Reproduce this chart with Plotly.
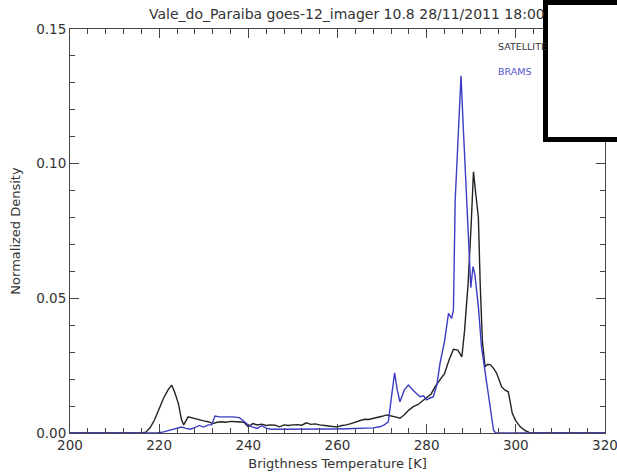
import plotly.graph_objects as go

# Brightness-temperature histograms (K vs normalized density)
sat_temp = [200, 216, 217, 218, 219, 220, 221, 222, 222.8, 223.5, 224.3, 225, 225.5,
            226.5, 227.5, 228.5, 230, 231, 232, 233, 234, 235, 236, 237.5, 239, 240,
            241, 242, 243, 244, 245, 246, 247, 248, 249, 250, 251, 252, 253, 254, 255,
            256, 257, 258, 259, 260, 261, 262, 263, 264, 265, 266, 267, 268, 269, 270,
            271, 272, 273, 274, 275, 276, 277, 278, 279, 280, 281, 282, 283, 284, 285,
            286, 287, 287.9, 288.5, 289.3, 290, 290.5, 291, 291.6, 292, 292.5, 293.1,
            293.7, 294.3, 295, 295.7, 296.3, 296.8, 297.5, 298.3, 298.8, 299.2, 300,
            301, 302, 303, 304, 320]
sat_density = [0, 0, 0.0003, 0.002, 0.005, 0.009, 0.013, 0.016, 0.0178, 0.015, 0.011,
               0.005, 0.003, 0.006, 0.0055, 0.005, 0.0045, 0.0042, 0.0035, 0.004, 0.0042,
               0.004, 0.0043, 0.0042, 0.004, 0.0023, 0.0035, 0.003, 0.0033, 0.0028, 0.003,
               0.0029, 0.0023, 0.003, 0.0028, 0.003, 0.0031, 0.0029, 0.0038, 0.0032,
               0.0034, 0.003, 0.0027, 0.0026, 0.0024, 0.0023, 0.0028, 0.003, 0.0035,
               0.004, 0.0046, 0.0051, 0.005, 0.0054, 0.0056, 0.0062, 0.0067, 0.0064,
               0.006, 0.0055, 0.0068, 0.0085, 0.0098, 0.0105, 0.0118, 0.0129, 0.0145,
               0.0175, 0.0197, 0.022, 0.027, 0.0311, 0.0308, 0.0283, 0.038, 0.0556,
               0.078, 0.097, 0.089, 0.080, 0.0556, 0.034, 0.0246, 0.0255, 0.0253, 0.024,
               0.0222, 0.019, 0.0172, 0.016, 0.0153, 0.011, 0.0073, 0.0045, 0.0023,
               0.001, 0.0002, 0, 0]

brams_temp = [200, 219.5, 221, 222, 223, 224, 225, 226, 227, 228, 229, 230, 231, 231.8,
              232.5, 233.5, 235, 236.5, 238, 239, 240, 241, 242, 243, 244, 245, 247, 250,
              253, 256, 259, 262, 265, 268, 269.5, 270.5, 271.4, 272, 272.8, 273.4, 274,
              275, 275.9, 277, 278.5, 279.3, 280, 280.8, 281.5, 282.3, 283, 284, 284.9,
              285.6, 286, 286.4, 287.1, 287.7, 288.2, 289, 289.5, 289.9, 290.4, 290.8,
              291.6, 292.3, 293.1, 294.2, 295, 295.5, 320]
brams_density = [0, 0, 0.0004, 0.0008, 0.0012, 0.0018, 0.0022, 0.0017, 0.0014, 0.002,
                 0.0028, 0.0022, 0.003, 0.003, 0.0063, 0.006, 0.006, 0.006, 0.0057, 0.0045,
                 0.003, 0.0022, 0.0017, 0.0027, 0.0018, 0.0014, 0.0014, 0.0013, 0.0013,
                 0.0014, 0.0015, 0.0016, 0.0017, 0.0019, 0.0023, 0.003, 0.0042, 0.012,
                 0.0223, 0.016, 0.0116, 0.016, 0.0178, 0.0158, 0.0135, 0.0138, 0.0123,
                 0.013, 0.0135, 0.018, 0.0259, 0.034, 0.0444, 0.0426, 0.0457, 0.0865,
                 0.114, 0.1326, 0.114, 0.0865, 0.068, 0.054, 0.0618, 0.059, 0.0469, 0.032,
                 0.0228, 0.011, 0.001, 0, 0]

x_ticks = [200, 220, 240, 260, 280, 300, 320]
y_ticks = [0.00, 0.05, 0.10, 0.15]

W, H = 617, 476
ML, MR, MT, MB = 70, 12, 29, 43
PW, PH = W - ML - MR, H - MT - MB


def px_x(p):
    return (p - ML) / PW


def px_y(p):
    return (H - MB - p) / PH


fig = go.Figure()
fig.add_trace(go.Scatter(x=sat_temp, y=sat_density, mode="lines",
                         line=dict(color="#222222", width=1.4), name="SATELLITE"))
fig.add_trace(go.Scatter(x=brams_temp, y=brams_density, mode="lines",
                         line=dict(color="#3c3cc4", width=1.4), name="BRAMS"))

axis_common = dict(
    showline=True, linecolor="#444444", linewidth=1, mirror="allticks",
    ticks="inside", ticklen=9, tickcolor="#444444", tickwidth=1,
    showgrid=False, zeroline=False, automargin=False, ticklabeloverflow="allow",
    tickfont=dict(family="DejaVu Sans", size=13.5, color="#333333"),
)

fig.update_xaxes(range=[200, 320], tickvals=x_ticks,
                 minor=dict(dtick=4, ticks="inside", ticklen=5, tickcolor="#444444"),
                 title=dict(text="Brigthness Temperature [K]",
                            font=dict(family="DejaVu Sans", size=13, color="#333333"),
                            standoff=6),
                 **axis_common)
fig.update_yaxes(range=[0, 0.15], tickvals=y_ticks, tickformat=".2f",
                 minor=dict(dtick=0.01, ticks="inside", ticklen=5, tickcolor="#444444"),
                 title=dict(text="Normalized Density",
                            font=dict(family="DejaVu Sans", size=13, color="#333333"),
                            standoff=12),
                 **axis_common)

fig.update_layout(
    width=W, height=H,
    margin=dict(l=ML, r=MR, t=MT, b=MB),
    paper_bgcolor="white", plot_bgcolor="white",
    showlegend=False,
    annotations=[
        dict(text="Vale_do_Paraiba goes-12_imager 10.8 28/11/2011 18:00",
             xref="paper", yref="paper", x=px_x(147), y=px_y(4),
             xanchor="left", yanchor="top", showarrow=False,
             font=dict(family="DejaVu Sans", size=14, color="#333333")),
        dict(text="SATELLITE", xref="paper", yref="paper", x=px_x(496), y=px_y(46),
             xanchor="left", yanchor="middle", showarrow=False,
             font=dict(family="DejaVu Sans", size=9.5, color="#333333")),
        dict(text="BRAMS", xref="paper", yref="paper", x=px_x(496), y=px_y(71),
             xanchor="left", yanchor="middle", showarrow=False,
             font=dict(family="DejaVu Sans", size=9.5, color="#5555cc")),
    ],
    shapes=[
        dict(type="rect", xref="paper", yref="paper", layer="above",
             x0=px_x(545.5), x1=px_x(640), y0=px_y(139.5), y1=px_y(2.5),
             line=dict(color="black", width=5), fillcolor="white"),
    ],
)

fig.write_html("out.html")
